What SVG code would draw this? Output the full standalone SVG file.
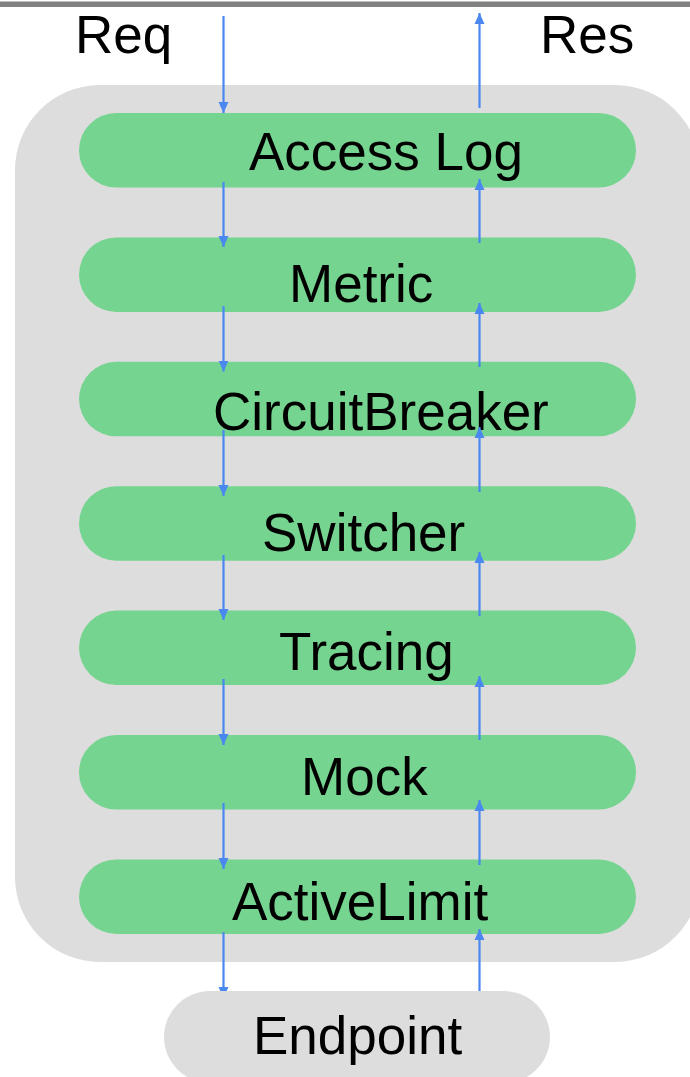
<svg xmlns="http://www.w3.org/2000/svg" width="690" height="1077" viewBox="0 0 690 1077">
<defs>
<style>
.t{font-family:"Liberation Sans",Arial,Helvetica,sans-serif;font-size:53px;fill:#000}
.pill{fill:#76D491}
.c{stroke:#4A88F0;stroke-width:2.2;fill:none;marker-end:url(#ah)}
</style>
<marker id="ah" markerUnits="userSpaceOnUse" markerWidth="12" markerHeight="12" viewBox="0 0 12 12" refX="11" refY="6" orient="auto">
<path d="M0,1 L11,6 L0,11 Z" fill="#4A88F0"/>
</marker>
</defs>
<rect x="0" y="1.5" width="690" height="5.5" fill="#808080"/>
<g id="container"><rect x="15" y="85" width="685" height="877" rx="85" fill="#DDDDDD"/></g>
<g id="req"><text class="t" x="75" y="53">Req</text></g>
<g id="res"><text class="t" x="540" y="53">Res</text></g>
<g id="accesslog"><rect class="pill" x="79" y="113" width="557" height="74.5" rx="37.25"/><text class="t" x="249" y="170">Access Log</text></g>
<g id="metric"><rect class="pill" x="79" y="237.4" width="557" height="74.5" rx="37.25"/><text class="t" x="289" y="302">Metric</text></g>
<g id="circuitbreaker"><rect class="pill" x="79" y="361.8" width="557" height="74.5" rx="37.25"/><text class="t" x="213" y="430">CircuitBreaker</text></g>
<g id="switcher"><rect class="pill" x="79" y="486.2" width="557" height="74.5" rx="37.25"/><text class="t" x="262" y="551">Switcher</text></g>
<g id="tracing"><rect class="pill" x="79" y="610.6" width="557" height="74.5" rx="37.25"/><text class="t" x="279" y="670">Tracing</text></g>
<g id="mock"><rect class="pill" x="79" y="735" width="557" height="74.5" rx="37.25"/><text class="t" x="301" y="795">Mock</text></g>
<g id="activelimit"><rect class="pill" x="79" y="859.4" width="557" height="74.5" rx="37.25"/><text class="t" x="232" y="920">ActiveLimit</text></g>
<g id="connectors">
<line class="c" x1="223.5" y1="16" x2="223.5" y2="113"/>
<line class="c" x1="223.5" y1="182" x2="223.5" y2="247"/>
<line class="c" x1="223.5" y1="306" x2="223.5" y2="371.5"/>
<line class="c" x1="223.5" y1="430" x2="223.5" y2="496"/>
<line class="c" x1="223.5" y1="555" x2="223.5" y2="620"/>
<line class="c" x1="223.5" y1="679" x2="223.5" y2="745"/>
<line class="c" x1="223.5" y1="803" x2="223.5" y2="869"/>
<line class="c" x1="223.5" y1="932" x2="223.5" y2="998"/>
<line class="c" x1="479.5" y1="108" x2="479.5" y2="13"/>
<line class="c" x1="479.5" y1="243" x2="479.5" y2="179"/>
<line class="c" x1="479.5" y1="367" x2="479.5" y2="303"/>
<line class="c" x1="479.5" y1="492" x2="479.5" y2="427"/>
<line class="c" x1="479.5" y1="616" x2="479.5" y2="552"/>
<line class="c" x1="479.5" y1="740" x2="479.5" y2="676"/>
<line class="c" x1="479.5" y1="865" x2="479.5" y2="800"/>
<line class="c" x1="479.5" y1="991" x2="479.5" y2="929"/>
</g>
<g id="endpoint"><rect x="164" y="991" width="386" height="92" rx="46" fill="#DDDDDD"/><text class="t" x="253" y="1054">Endpoint</text></g>
</svg>
